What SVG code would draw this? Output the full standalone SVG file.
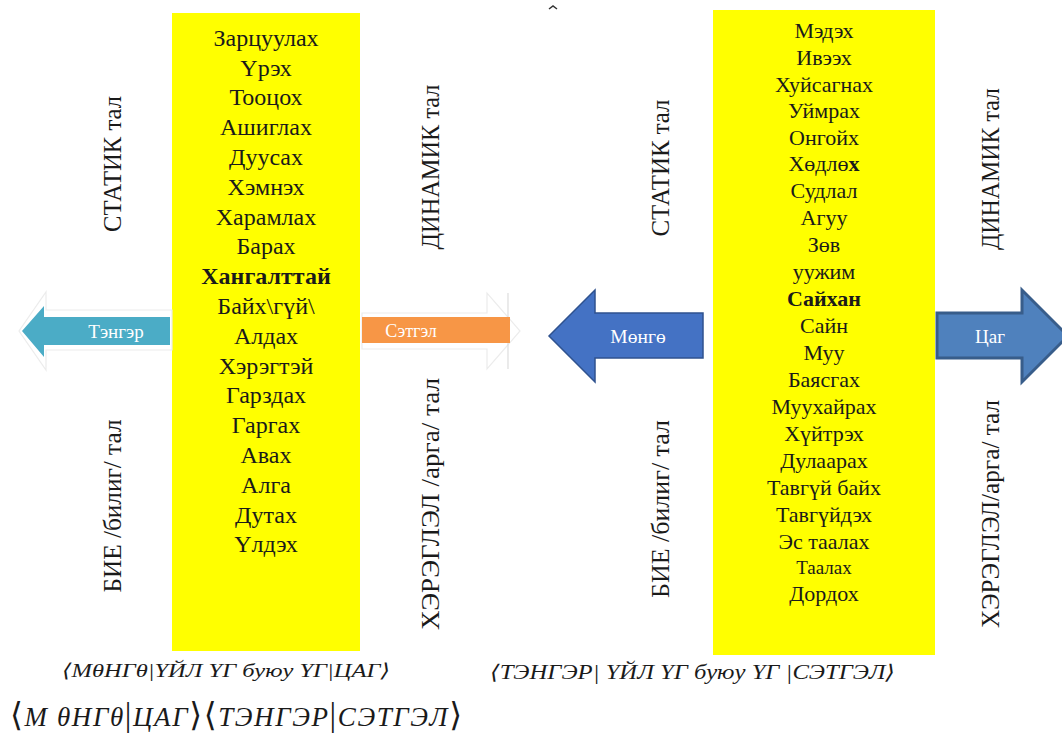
<svg xmlns="http://www.w3.org/2000/svg" width="1062" height="742" viewBox="0 0 1062 742">
<style>
.col{fill:#ffff00}
.t{font-family:"Liberation Serif","Times New Roman","DejaVu Serif",serif;fill:#1a1a1a;text-anchor:middle}
.lc{font-size:24px}
.rc{font-size:22px}
.v{font-size:25px}
.al{font-family:"Liberation Serif","Times New Roman","DejaVu Serif",serif;fill:#ffffff;text-anchor:middle}
.f{font-family:"Liberation Serif","Times New Roman","DejaVu Serif",serif;font-style:italic;fill:#1a1a1a}
.br{font-style:normal}
.ghost{fill:#ffffff;stroke:#ececec;stroke-width:1.2}
</style>
<rect width="1062" height="742" fill="#ffffff"/>
<path d="M549 9 L553 6 L557 9" fill="none" stroke="#333" stroke-width="1.5"/>

<g id="left-column">
<rect class="col" x="172" y="13" width="188" height="638"/>
<g class="t lc">
<text x="266" y="46">Зарцуулах</text>
<text x="266" y="76">Үрэх</text>
<text x="266" y="105">Тооцох</text>
<text x="266" y="135">Ашиглах</text>
<text x="266" y="165">Дуусах</text>
<text x="266" y="195">Хэмнэх</text>
<text x="266" y="225">Харамлах</text>
<text x="266" y="254">Барах</text>
<text x="266" y="284" font-weight="bold">Хангалттай</text>
<text x="266" y="314">Байх\гүй\</text>
<text x="266" y="344">Алдах</text>
<text x="266" y="374">Хэрэгтэй</text>
<text x="266" y="403">Гарздах</text>
<text x="266" y="433">Гаргах</text>
<text x="266" y="463">Авах</text>
<text x="266" y="493">Алга</text>
<text x="266" y="523">Дутах</text>
<text x="266" y="552">Үлдэх</text>
</g>
</g>

<g id="right-column">
<rect class="col" x="713" y="10" width="222" height="645"/>
<g class="t rc">
<text x="824" y="38">Мэдэх</text>
<text x="824" y="65">Ивээх</text>
<text x="824" y="92">Хуйсагнах</text>
<text x="824" y="118">Уймрах</text>
<text x="824" y="145">Онгойх</text>
<text x="824" y="171">Хөдлө<tspan font-weight="bold">х</tspan></text>
<text x="824" y="198">Судлал</text>
<text x="824" y="225">Агуу</text>
<text x="824" y="252">Зөв</text>
<text x="824" y="279">уужим</text>
<text x="824" y="306" font-weight="bold">Сайхан</text>
<text x="824" y="333">Сайн</text>
<text x="824" y="360">Муу</text>
<text x="824" y="387">Баясгах</text>
<text x="824" y="414">Муухайрах</text>
<text x="824" y="441">Хүйтрэх</text>
<text x="824" y="468">Дулаарах</text>
<text x="824" y="495">Тавгүй байх</text>
<text x="824" y="522">Тавгүйдэх</text>
<text x="824" y="549">Эс таалах</text>
<text x="824" y="574" font-size="19">Таалах</text>
<text x="824" y="601">Дордох</text>
</g>
</g>

<g id="side-labels" class="t v">
<text transform="translate(121,164) rotate(-90)" textLength="136" lengthAdjust="spacingAndGlyphs">СТАТИК тал</text>
<text transform="translate(121,506) rotate(-90)" textLength="173" lengthAdjust="spacingAndGlyphs">БИЕ /билиг/ тал</text>
<text transform="translate(439,167) rotate(-90)" textLength="165" lengthAdjust="spacingAndGlyphs">ДИНАМИК тал</text>
<text transform="translate(439,504) rotate(-90)" textLength="252" lengthAdjust="spacingAndGlyphs">ХЭРЭГЛЭЛ /арга/ тал</text>
<text transform="translate(669,168) rotate(-90)" textLength="137" lengthAdjust="spacingAndGlyphs">СТАТИК тал</text>
<text transform="translate(669,509) rotate(-90)" textLength="178" lengthAdjust="spacingAndGlyphs">БИЕ /билиг/ тал</text>
<text transform="translate(999,169) rotate(-90)" textLength="162" lengthAdjust="spacingAndGlyphs">ДИНАМИК тал</text>
<text transform="translate(999,514) rotate(-90)" textLength="228" lengthAdjust="spacingAndGlyphs">ХЭРЭГЛЭЛ/арга/ тал</text>
</g>

<g id="connectors">
<g id="arrow-tenger">
<path class="ghost" d="M172 310 L46 310 L46 292 L19 331 L46 370 L46 350 L172 350 Z"/>
<path d="M170 317 L44 317 L44 306 L22 331 L44 357 L44 345 L170 345 Z" fill="#4bacc6"/>
<text class="al" x="116" y="338" font-size="19">Тэнгэр</text>
</g>
<g id="arrow-setgel">
<path class="ghost" d="M362 313 L487 313 L487 293 L520 331 L487 369 L487 349 L362 349 Z"/>
<line x1="508" y1="293" x2="508" y2="369" stroke="#dddddd" stroke-width="1.2"/>
<rect x="362" y="317" width="148" height="26" fill="#f79646"/>
<text class="al" x="411" y="337" font-size="18">Сэтгэл</text>
</g>
<g id="arrow-mongo">
<path d="M703 313 L595 313 L595 290 L549 336 L595 382 L595 358 L703 358 Z" fill="#4472c4" stroke="#2f528f" stroke-width="1.5"/>
<text class="al" x="638" y="343" font-size="19.5">Мөнгө</text>
</g>
<g id="arrow-tsag">
<path d="M937 313 L1022 313 L1022 290 L1068 336 L1022 382 L1022 358 L937 358 Z" fill="#4f81bd" stroke="#385d8a" stroke-width="3"/>
<text class="al" x="990" y="343" font-size="19">Цаг</text>
</g>
</g>

<g id="formulas">
<text class="f" x="62" y="677" font-size="19" textLength="328" lengthAdjust="spacingAndGlyphs">⟨МθНГθ|ҮЙЛ  ҮГ буюу ҮГ|ЦАГ⟩</text>
<text class="f" x="490" y="679" font-size="20" textLength="405" lengthAdjust="spacingAndGlyphs">⟨ТЭНГЭР| ҮЙЛ  ҮГ буюу  ҮГ |СЭТГЭЛ⟩</text>
<text class="f" x="10" y="726" font-size="27" textLength="452" lengthAdjust="spacing"><tspan class="br" font-size="33">⟨</tspan>М θНГθ<tspan class="br" font-size="33">|</tspan>ЦАГ<tspan class="br" font-size="33">⟩⟨</tspan>ТЭНГЭР<tspan class="br" font-size="33">|</tspan>СЭТГЭЛ<tspan class="br" font-size="33">⟩</tspan></text>
</g>
</svg>
